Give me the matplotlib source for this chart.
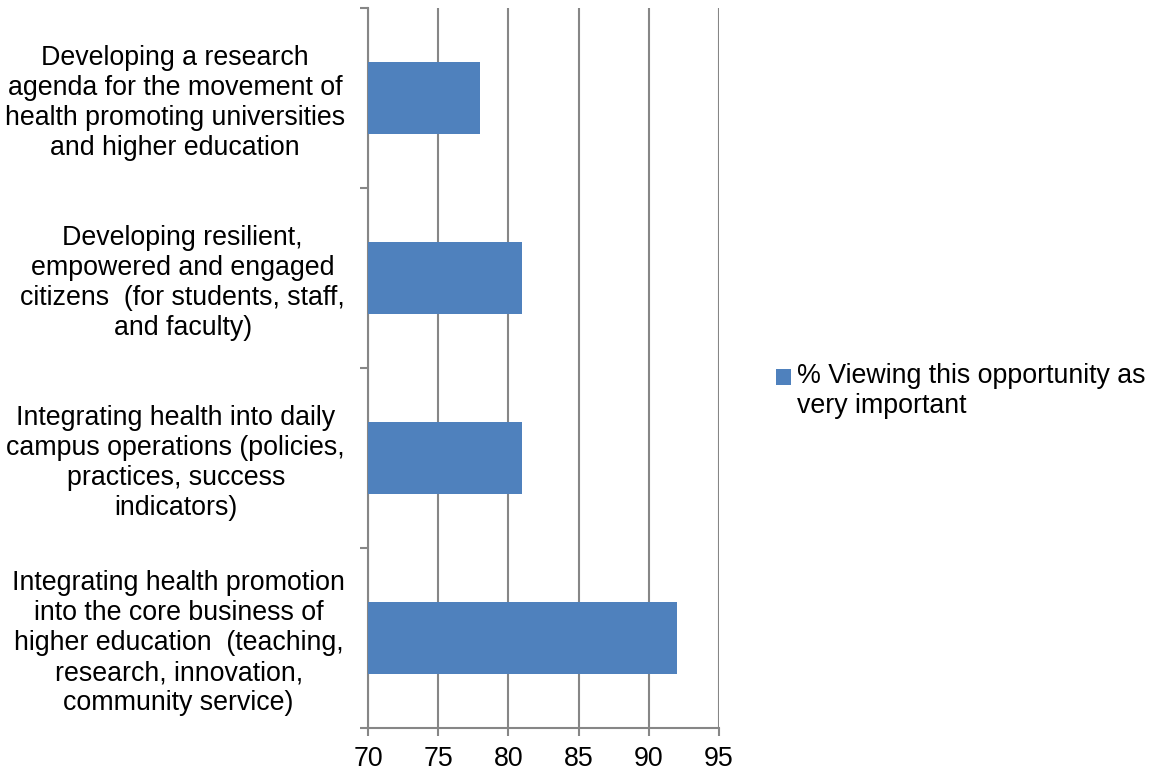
import numpy as np
import matplotlib.pyplot as plt

plt.rcParams['font.family'] = ['Liberation Sans', 'DejaVu Sans']

# Survey opportunities, listed bottom to top
opportunities = [
    'Integrating health promotion\ninto the core business of\nhigher education  (teaching,\nresearch, innovation,\ncommunity service)',
    'Integrating health into daily\ncampus operations (policies,\npractices, success\nindicators)',
    'Developing resilient,\nempowered and engaged\ncitizens  (for students, staff,\nand faculty)',
    'Developing a research\nagenda for the movement of\nhealth promoting universities\nand higher education',
]
pct_very_important = [92, 81, 81, 78]
x_ticks = [70, 75, 80, 85, 90, 95]
series_name = '% Viewing this opportunity as\nvery important'

bar_color = '#4F81BD'
line_color = '#868686'
fs = 19.3

fig = plt.figure(figsize=(11.49, 7.73), dpi=100)
ax = fig.add_axes([368 / 1149, 1 - 728 / 773, 351 / 1149, 720 / 773])

y = np.arange(len(opportunities))
ax.barh(y, pct_very_important, height=0.4, color=bar_color, zorder=3,
        label=series_name)

ax.set_xlim(70, 95)
ax.set_ylim(-0.5, len(opportunities) - 0.5)

ax.set_xticks(x_ticks)
ax.set_xticklabels([str(t) for t in x_ticks], fontsize=fs)
ax.xaxis.grid(True, color=line_color, linewidth=1.5, zorder=0)

# category boundaries get the tick marks, the labels sit between them
ax.set_yticks(np.arange(-0.5, len(opportunities)))
ax.set_yticklabels([])
ax.set_yticks(y, minor=True)
ax.set_yticklabels(opportunities, minor=True, fontsize=fs,
                   multialignment='center', linespacing=1.2)
ax.tick_params(axis='y', which='minor', length=0, pad=16.5)
ax.tick_params(axis='y', which='major', length=6, width=1.5, color=line_color)
ax.tick_params(axis='x', length=6, width=1.5, color=line_color, pad=7)

for side in ['top', 'right']:
    ax.spines[side].set_visible(False)
for side in ['left', 'bottom']:
    ax.spines[side].set_color(line_color)
    ax.spines[side].set_linewidth(1.5)

leg = ax.legend(loc='center left', bbox_to_anchor=(1.133, 0.468), frameon=False,
                fontsize=fs, handlelength=0.55, handleheight=0.55,
                handletextpad=0.22, borderaxespad=0)
for t in leg.get_texts():
    t.set_linespacing(1.2)
# keep the colour square level with the first line of the label
h = leg.legend_handles[0]
h.set_y(h.get_y() + 0.54 * fs)

fig.savefig('out.png', dpi=100)
